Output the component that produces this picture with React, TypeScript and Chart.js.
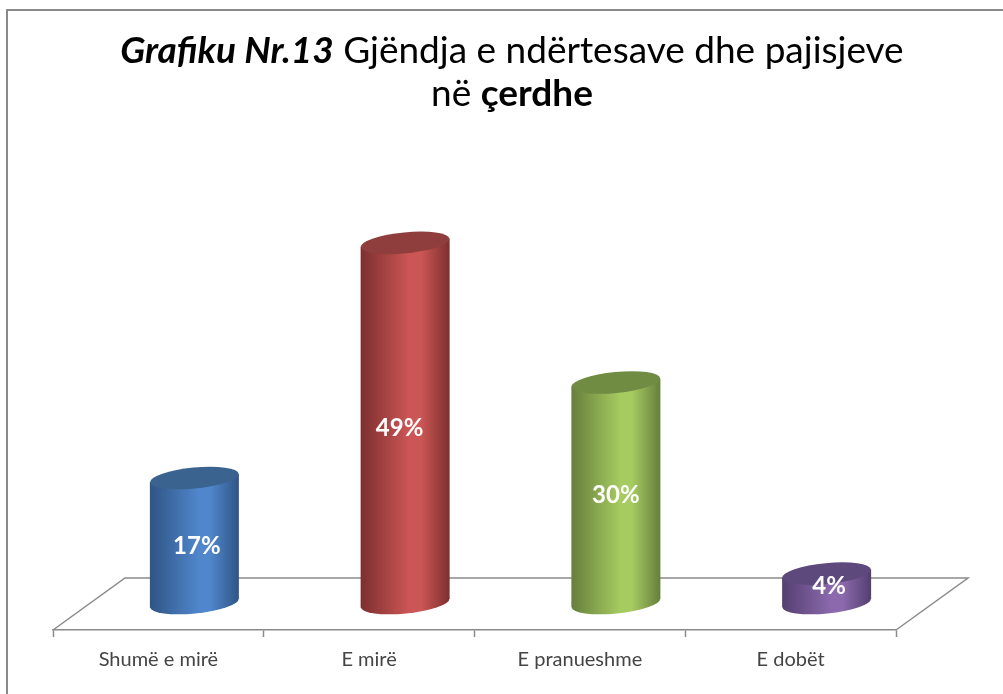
import React, { useEffect, useRef } from "react";
import { Chart, registerables } from "chart.js";

Chart.register(...registerables);

const categories = ["Shumë e mirë", "E mirë", "E pranueshme", "E dobët"];
const values = [17, 49, 30, 4];
const valueLabels = ["17%", "49%", "30%", "4%"];
const barColors = ["#5086CC", "#CC5655", "#A6CB60", "#8B69AC"];
const edgeColors = ["#2F5585", "#7C2F2F", "#667F3C", "#543F70"];
const capColors = ["#3B6390", "#8F3E3D", "#708C43", "#5E497D"];
const titleLines = [
  [
    { text: "Grafiku Nr.13", style: "italic bold" },
    { text: " Gjëndja e ndërtesave dhe pajisjeve", style: "normal" },
  ],
  [
    { text: "në ", style: "normal" },
    { text: "çerdhe", style: "bold" },
  ],
];

const FONT = "Lato, Carlito, sans-serif";

const cylinderPlugin = {
  id: "cylinder3d",
  beforeDraw(chart: any) {
    const { ctx, width, height } = chart;
    ctx.save();
    ctx.fillStyle = "#ffffff";
    ctx.fillRect(0, 0, width, height);
    ctx.strokeStyle = "#8a8a8a";
    ctx.lineWidth = 2;
    ctx.beginPath();
    ctx.moveTo(7, height);
    ctx.lineTo(7, 10);
    ctx.lineTo(width, 10);
    ctx.stroke();

    // title
    ctx.fillStyle = "#000000";
    ctx.textBaseline = "alphabetic";
    const size = 37;
    titleLines.forEach((runs, i) => {
      const fonts = runs.map((r) => `${r.style} ${size}px ${FONT}`);
      let total = 0;
      runs.forEach((r, k) => {
        ctx.font = fonts[k];
        total += ctx.measureText(r.text).width;
      });
      let x = 512 - total / 2;
      runs.forEach((r, k) => {
        ctx.font = fonts[k];
        ctx.textAlign = "left";
        ctx.fillText(r.text, x, 63 + i * 43);
        x += ctx.measureText(r.text).width;
      });
    });
    ctx.restore();
  },
  beforeDatasetsDraw(chart: any) {
    const { ctx, chartArea } = chart;
    const depthX = 72;
    const depthY = 52;
    const { left, right, bottom } = chartArea;
    ctx.save();
    ctx.strokeStyle = "#8a8a8a";
    ctx.lineWidth = 1.5;
    ctx.beginPath();
    ctx.moveTo(left, bottom);
    ctx.lineTo(left + depthX, bottom - depthY);
    ctx.lineTo(right + depthX, bottom - depthY);
    ctx.lineTo(right, bottom);
    ctx.stroke();

    const meta = chart.getDatasetMeta(0);
    const rx = 44.5;
    const ry = 10.5;
    const rot = (-5.5 * Math.PI) / 180;
    const tilt = 4;
    const shiftX = 36;
    const shiftY = -27;
    meta.data.forEach((bar: any, i: number) => {
      const cx = bar.x + shiftX;
      const topY = bar.y + shiftY;
      const baseY = bar.base + shiftY;
      const g = ctx.createLinearGradient(cx - rx, 0, cx + rx, 0);
      g.addColorStop(0, edgeColors[i]);
      g.addColorStop(0.55, barColors[i]);
      g.addColorStop(0.68, barColors[i]);
      g.addColorStop(1, edgeColors[i]);
      ctx.fillStyle = g;
      ctx.beginPath();
      ctx.ellipse(cx, baseY, rx, ry, rot, 0, Math.PI * 2);
      ctx.fill();
      ctx.beginPath();
      ctx.moveTo(cx - rx, topY + tilt);
      ctx.lineTo(cx + rx, topY - tilt);
      ctx.lineTo(cx + rx, baseY - tilt);
      ctx.lineTo(cx - rx, baseY + tilt);
      ctx.closePath();
      ctx.fill();
      ctx.fillStyle = capColors[i];
      ctx.beginPath();
      ctx.ellipse(cx, topY, rx, ry, rot, 0, Math.PI * 2);
      ctx.fill();

      ctx.fillStyle = "#ffffff";
      ctx.font = `bold 24px ${FONT}`;
      ctx.textAlign = "center";
      ctx.textBaseline = "middle";
      const nudgeX = [2.5, -5.5, 0, 2.5][i];
      const nudgeY = [6, 5, 3, -2][i];
      ctx.fillText(valueLabels[i], cx + nudgeX, (topY + baseY) / 2 + nudgeY);
    });
    ctx.restore();
    return false;
  },
};

export default function App() {
  const ref = useRef<HTMLCanvasElement | null>(null);
  useEffect(() => {
    document.body.style.margin = "0";
    const chart = new Chart(ref.current as HTMLCanvasElement, {
      type: "bar",
      data: {
        labels: categories,
        datasets: [{ label: "Gjëndja", data: values, backgroundColor: barColors }],
      },
      plugins: [cylinderPlugin as any],
      options: {
        responsive: false,
        animation: false,
        layout: { padding: { left: 53, right: 107, top: 189, bottom: 0 } },
        plugins: { legend: { display: false }, tooltip: { enabled: false }, title: { display: false } },
        scales: {
          x: {
            offset: true,
            afterFit: (s: any) => {
              s.height = 64;
            },
            grid: {
              offset: true,
              drawOnChartArea: false,
              drawTicks: true,
              tickLength: 7,
              tickColor: "#8a8a8a",
              tickWidth: 1.5,
            },
            border: { display: true, color: "#8a8a8a", width: 1.5 },
            ticks: {
              color: "#444444",
              font: { family: FONT, size: 20 },
              padding: 11,
              maxRotation: 0,
              autoSkip: false,
            },
          },
          y: { display: false, min: 0, max: 60 },
        },
      },
    } as any);
    return () => chart.destroy();
  }, []);
  return <canvas ref={ref} width={1003} height={694} style={{ display: "block" }} />;
}
